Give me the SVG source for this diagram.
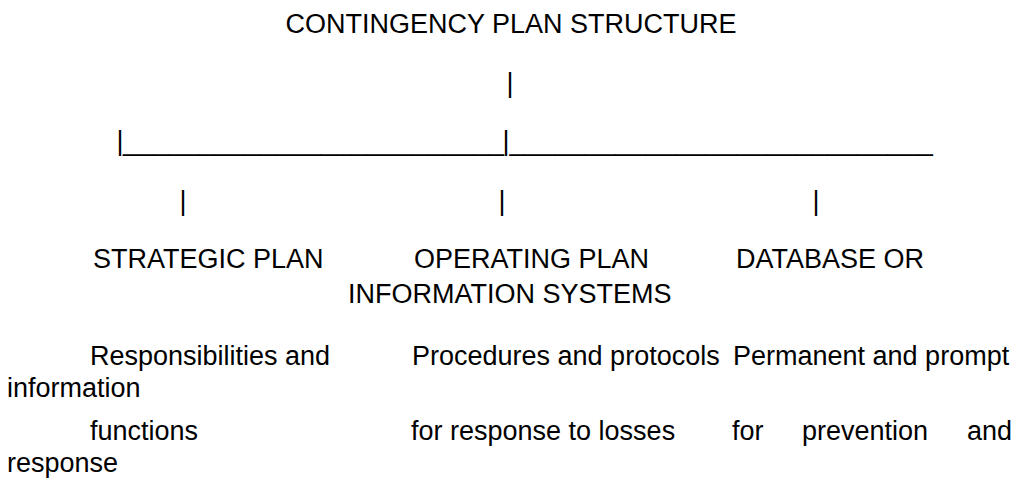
<svg xmlns="http://www.w3.org/2000/svg" width="1018" height="497" viewBox="0 0 1018 497">
<style>
text { font-family: "Liberation Sans", Arial, sans-serif; font-size: 27px; fill: #000; }
</style>
<rect x="0" y="0" width="1018" height="497" fill="#fff"/>
<g id="title">
<text x="511" y="33" text-anchor="middle">CONTINGENCY PLAN STRUCTURE</text>
</g>
<g id="connectors">
<text x="506.5" y="92">|</text>
<text x="116.5" y="150">|</text>
<text x="123" y="150" textLength="381" lengthAdjust="spacingAndGlyphs">_________________________</text>
<text x="502.5" y="150">|</text>
<text x="509.5" y="150" textLength="423.5" lengthAdjust="spacingAndGlyphs">____________________________</text>
<text x="179.5" y="210">|</text>
<text x="498.5" y="210">|</text>
<text x="812.5" y="210">|</text>
</g>
<g id="node-strategic">
<text x="93" y="268">STRATEGIC PLAN</text>
<text x="90" y="365">Responsibilities and</text>
<text x="90" y="440">functions</text>
</g>
<g id="node-operating">
<text x="414" y="268">OPERATING PLAN</text>
<text x="412" y="365">Procedures and protocols</text>
<text x="411" y="440">for response to losses</text>
</g>
<g id="node-database">
<text x="736" y="268">DATABASE OR</text>
<text x="348" y="303">INFORMATION SYSTEMS</text>
<text x="733" y="365">Permanent and prompt</text>
<text x="7" y="397">information</text>
<text y="440"><tspan x="732">for</tspan><tspan x="802">prevention</tspan><tspan x="967">and</tspan></text>
<text x="7" y="472">response</text>
</g>
</svg>
